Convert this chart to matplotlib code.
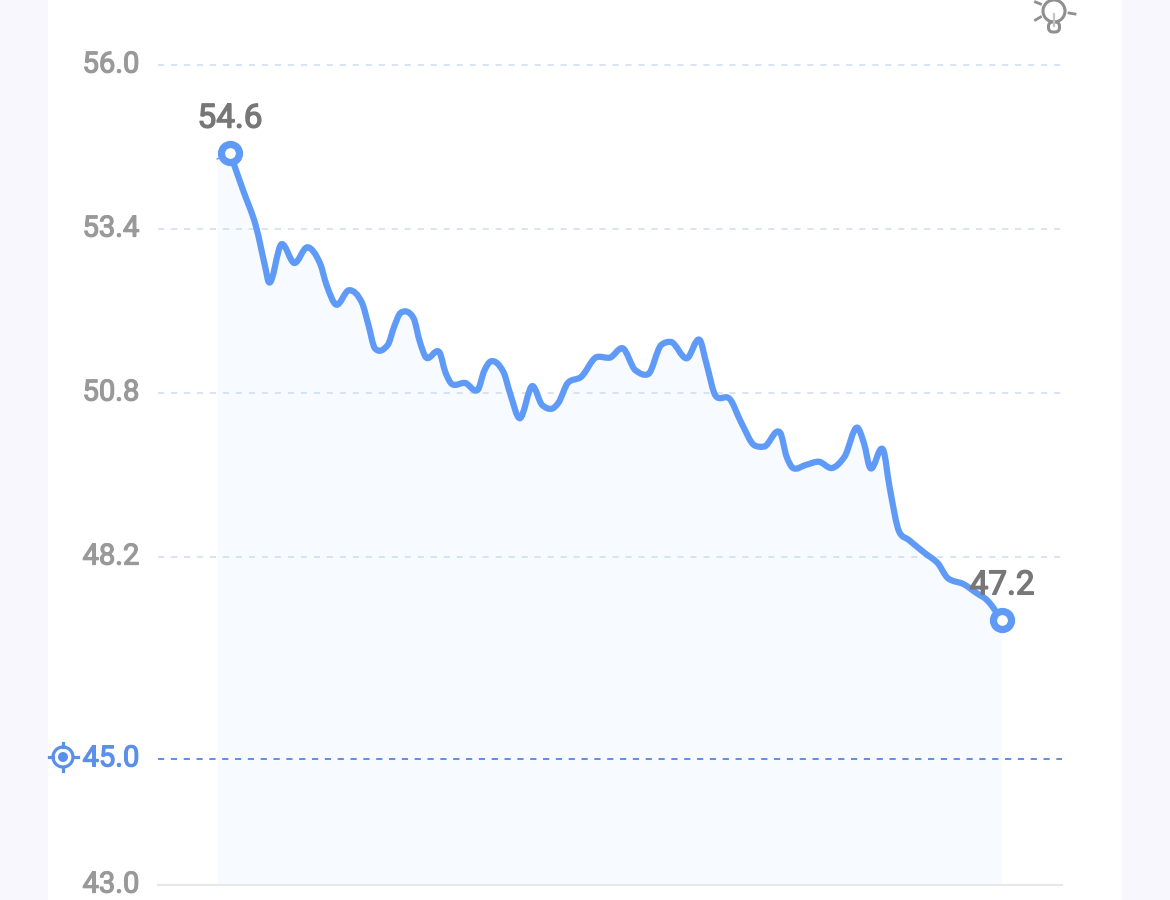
import numpy as np
import matplotlib
matplotlib.use('Agg')
import matplotlib.pyplot as plt
import matplotlib.patheffects as pe
from matplotlib.path import Path
from matplotlib.patches import PathPatch, Circle, Rectangle, FancyBboxPatch
from matplotlib.transforms import ScaledTranslation

# x is only a position along the axis
days = [0, 4, 8, 11, 12, 16, 20, 24, 28, 30, 33, 37, 41, 43, 45, 49, 51, 53, 57, 59,
        61, 65, 67, 69, 73, 77, 79, 81, 85, 87, 90, 94, 97, 100, 102, 105, 109, 114, 118, 122,
        126, 130, 134, 137, 142, 146, 148, 151, 155, 159, 163, 166, 171, 173, 175, 179, 183, 187, 191, 195,
        197, 199, 203, 205, 208, 211, 216, 220, 223, 228, 232, 235, 240]
values = [54.60, 54.02, 53.45, 52.78, 52.56, 53.16, 52.86, 53.11, 52.85, 52.51, 52.20, 52.43, 52.23, 51.88, 51.51, 51.56, 51.85, 52.07, 51.99, 51.61,
          51.36, 51.45, 51.12, 50.94, 50.96, 50.85, 51.15, 51.30, 51.13, 50.80, 50.40, 50.91, 50.61, 50.55, 50.64, 50.96, 51.05, 51.37, 51.36, 51.51,
          51.16, 51.10, 51.56, 51.61, 51.35, 51.64, 51.28, 50.75, 50.72, 50.32, 49.97, 49.95, 50.17, 49.79, 49.61, 49.66, 49.71, 49.61, 49.79, 50.25,
          50.01, 49.61, 49.90, 49.31, 48.60, 48.47, 48.26, 48.10, 47.87, 47.77, 47.63, 47.53, 47.20]
fill_start = (-4, 54.51)

grid_ticks = [56.0, 53.4, 50.8, 48.2]
target = 45.0
y_min = 43.0

BLUE = '#5f9bf6'
TARGET_BLUE = '#5b90ea'
GREY = '#999999'

plt.rcParams['font.family'] = ['Roboto', 'DejaVu Sans']

fig = plt.figure(figsize=(11.7, 9), dpi=100, facecolor='#f7f7fd')

# white card and icons sit on a pixel sized overlay
bg = fig.add_axes([0, 0, 1, 1], zorder=0)
bg.set_xlim(0, 1170)
bg.set_ylim(900, 0)
bg.axis('off')
bg.add_patch(Rectangle((48, 0), 1074, 900, color='white', lw=0))

# target icon
bg.add_patch(Circle((63, 757), 10, fill=False, ec=TARGET_BLUE, lw=2.3))
bg.add_patch(Circle((63, 757), 5, color=TARGET_BLUE, lw=0))
bg.plot([48.5, 53], [757, 757], color=TARGET_BLUE, lw=2.3)
bg.plot([73, 77.5], [757, 757], color=TARGET_BLUE, lw=2.3)
bg.plot([63, 63], [742.5, 747], color=TARGET_BLUE, lw=2.3)
bg.plot([63, 63], [767, 771], color=TARGET_BLUE, lw=2.3)

# bulb icon
bulb = '#8f8f8f'
bg.add_patch(Circle((1054, 11), 11, fill=False, ec=bulb, lw=2.2))
bg.add_patch(FancyBboxPatch((1048.5, 22), 11, 10, boxstyle='round,pad=0,rounding_size=4.5',
                            fc='white', ec=bulb, lw=2.2))
bg.plot([1054, 1054], [14, 26], color='#c4c4c4', lw=1.6)
bg.plot([1035.5, 1040.5], [20, 17], color=bulb, lw=2)
bg.plot([1035.5, 1040.5], [2, 4], color=bulb, lw=2)
bg.plot([1069, 1075], [13, 14], color=bulb, lw=2)

ax = fig.add_axes([158 / 1170, 15 / 900, 904 / 1170, 885 / 900], zorder=1)
ax.patch.set_alpha(0)
ax.set_xlim(-22.4, 258.6)
ax.set_ylim(y_min, 57.03)
for s in ax.spines.values():
    s.set_visible(False)
ax.set_xticks([])

ticks = [y_min, target] + grid_ticks
ax.set_yticks(ticks)
ax.set_yticklabels(['%.1f' % t for t in ticks], fontsize=21, color=GREY)
ax.tick_params(axis='y', length=0, pad=13.5)
ax.get_yticklabels()[1].set_color(TARGET_BLUE)
shift_up = ScaledTranslation(0, 2.5 / 72, fig.dpi_scale_trans)
for lab in ax.get_yticklabels():
    lab.set_path_effects([pe.withStroke(linewidth=0.9, foreground=lab.get_color())])
    lab.set_transform(lab.get_transform() + shift_up)

for t in grid_ticks:
    ax.axhline(t, color='#cddcf0', lw=1.1, dashes=(4, 4.5), zorder=1)
ax.axhline(target, color=TARGET_BLUE, lw=1.4, dashes=(3.2, 3.4), zorder=1)
ax.axhline(y_min, color='#e8e8e8', lw=1.6, zorder=1, clip_on=False)

# smooth curve through the read points, half way between flat peaks and round ones
x = np.array(days, dtype=float)
y = np.array(values)
dx = np.diff(x)
d = np.diff(y) / dx
flat = np.zeros(len(x))
flat[0] = d[0]
flat[-1] = d[-1]
for i in range(1, len(x) - 1):
    if d[i - 1] * d[i] > 0:
        w1 = 2 * dx[i] + dx[i - 1]
        w2 = dx[i] + 2 * dx[i - 1]
        flat[i] = (w1 + w2) / (w1 / d[i - 1] + w2 / d[i])
slope = 0.5 * flat + 0.5 * np.gradient(y, x)

verts = [(x[0], y[0])]
codes = [Path.MOVETO]
for i in range(len(x) - 1):
    h = dx[i]
    verts += [(x[i] + h / 3, y[i] + slope[i] * h / 3),
              (x[i + 1] - h / 3, y[i + 1] - slope[i + 1] * h / 3),
              (x[i + 1], y[i + 1])]
    codes += [Path.CURVE4] * 3

fill_verts = [(fill_start[0], y_min), fill_start] + verts + [(x[-1], y_min), (fill_start[0], y_min)]
fill_codes = [Path.MOVETO, Path.LINETO, Path.LINETO] + codes[1:] + [Path.LINETO, Path.CLOSEPOLY]
ax.add_patch(PathPatch(Path(fill_verts, fill_codes), fc='#f7fbff', ec='none', zorder=0))
ax.add_patch(PathPatch(Path(verts, codes), fc='none', ec=BLUE, lw=4.5, capstyle='round', joinstyle='round', zorder=3))
ax.plot([fill_start[0], x[0]], [fill_start[1], y[0]], color=BLUE, lw=1, zorder=3)

ax.plot([x[0], x[-1]], [y[0], y[-1]], ls='none', marker='o', ms=13, mew=5.2, mec=BLUE, mfc='white', zorder=4)
for i in (0, -1):
    ax.annotate('%.1f' % y[i], (x[i], y[i]), xytext=(0, 25), textcoords='offset points',
                ha='center', va='center', fontsize=24, color='#777777', zorder=5,
                path_effects=[pe.withStroke(linewidth=1.0, foreground='#777777')])

fig.savefig('out.png', dpi=100, facecolor=fig.get_facecolor())
